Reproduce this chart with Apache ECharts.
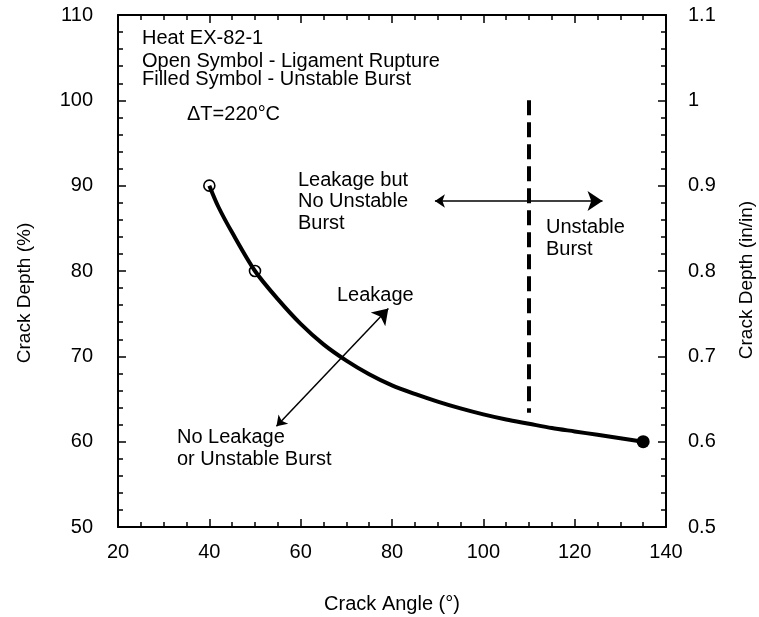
<!DOCTYPE html>
<html>
<head>
<meta charset="utf-8">
<script src="https://cdn.jsdelivr.net/npm/echarts@6/dist/echarts.min.js"></script>
<style>
  html, body { margin: 0; padding: 0; background: #fff; }
  #chart { width: 759px; height: 617px; }
</style>
</head>
<body>
<div id="chart"></div>
<script>
// Crack angle (deg) vs crack depth (%) boundary curve
const curveAngle = [40, 42, 45, 50, 55, 60, 65, 70, 75, 80, 85, 90, 95, 100, 105, 110, 115, 120, 125, 130, 135];
const curveDepth = [90, 87.5, 84.5, 80, 76.7, 73.8, 71.4, 69.5, 67.9, 66.6, 65.6, 64.7, 63.9, 63.2, 62.6, 62.1, 61.6, 61.2, 60.8, 60.4, 60];

// Open symbols: ligament rupture; filled symbol: unstable burst
const ruptureAngle = [40, 50];
const ruptureDepth = [90, 80];
const burstAngle = [135];
const burstDepth = [60];

// Unstable-burst threshold line
const thresholdAngle = [110, 110];
const thresholdDepth = [100, 63.4];

// Region arrows (start, end) in data units
const hArrowAngle = [89.4, 126.1];
const hArrowDepth = [88.2, 88.2];
const dArrowAngle = [54.7, 79.2];
const dArrowDepth = [61.8, 75.6];

// Axis ranges and ticks
const xMin = 20, xMax = 140, xStep = 20;
const yMin = 50, yMax = 110, yStep = 10;
const y2Min = 0.5, y2Max = 1.1, y2Step = 0.1;

const FONT = '"Liberation Sans", Arial, Helvetica, sans-serif';
const INK = '#000';

const zip = (a, b) => a.map((v, i) => [v, b[i]]);

const chart = echarts.init(document.getElementById('chart'), null, { renderer: 'canvas' });

const axisCommon = {
  axisLine: { show: true, onZero: false, lineStyle: { color: INK, width: 2 } },
  axisTick: { show: true, inside: true, length: 8, lineStyle: { color: INK, width: 1.5 } },
  splitLine: { show: false },
  axisLabel: { color: INK, fontFamily: FONT, fontSize: 20 }
};

// one line of free text, vertically centred on y
function txt(x, y, s, opts) {
  opts = opts || {};
  return {
    type: 'text', x: x, y: y, rotation: opts.rot || 0, silent: true,
    style: {
      text: s, fill: INK, font: (opts.size || 20) + 'px ' + FONT,
      align: opts.align || 'left', verticalAlign: 'middle'
    }
  };
}

chart.setOption({
  animation: false,
  backgroundColor: '#fff',
  grid: { left: 118, right: 93, top: 15, bottom: 90, containLabel: false },
  xAxis: [
    Object.assign({}, axisCommon, {
      type: 'value', position: 'bottom', min: xMin, max: xMax, interval: xStep,
      minorTick: { show: true, splitNumber: 4, length: 5, lineStyle: { color: INK, width: 1.5 } },
      axisLabel: Object.assign({}, axisCommon.axisLabel, { margin: 15 })
    }),
    Object.assign({}, axisCommon, {
      type: 'value', position: 'top', min: xMin, max: xMax, interval: xStep,
      minorTick: { show: true, splitNumber: 4, length: 5, lineStyle: { color: INK, width: 1.5 } },
      axisLabel: { show: false }
    })
  ],
  yAxis: [
    Object.assign({}, axisCommon, {
      type: 'value', position: 'left', min: yMin, max: yMax, interval: yStep,
      minorTick: { show: true, splitNumber: 5, length: 5, lineStyle: { color: INK, width: 1.5 } },
      axisLabel: Object.assign({}, axisCommon.axisLabel, { margin: 25 })
    }),
    Object.assign({}, axisCommon, {
      type: 'value', position: 'right', min: y2Min, max: y2Max, interval: y2Step,
      minorTick: { show: true, splitNumber: 5, length: 5, lineStyle: { color: INK, width: 1.5 } },
      axisLabel: Object.assign({}, axisCommon.axisLabel, { margin: 22 })
    })
  ],
  series: [
    {
      type: 'line', xAxisIndex: 0, yAxisIndex: 0,
      data: zip(curveAngle, curveDepth),
      smooth: 0.3, showSymbol: false, symbol: 'none',
      lineStyle: { color: INK, width: 4 }, z: 3
    },
    {
      type: 'line', xAxisIndex: 0, yAxisIndex: 0,
      data: zip(thresholdAngle, thresholdDepth),
      symbol: 'none',
      lineStyle: { color: INK, width: 4, type: [15, 7] }, z: 2
    },
    {
      type: 'scatter', xAxisIndex: 0, yAxisIndex: 0,
      data: zip(ruptureAngle, ruptureDepth),
      symbol: 'circle', symbolSize: 11,
      itemStyle: { color: 'rgba(255,255,255,0)', borderColor: INK, borderWidth: 1.6, opacity: 1 }, z: 5
    },
    {
      type: 'scatter', xAxisIndex: 0, yAxisIndex: 0,
      data: zip(burstAngle, burstDepth),
      symbol: 'circle', symbolSize: 13,
      itemStyle: { color: INK, opacity: 1 }, z: 5
    },
    {
      type: 'lines', coordinateSystem: 'cartesian2d', xAxisIndex: 0, yAxisIndex: 0,
      polyline: false,
      symbol: ['arrow', 'arrow'], symbolSize: [10, 15],
      lineStyle: { color: INK, width: 1.5, curveness: 0, opacity: 1 },
      data: [
        { coords: zip(hArrowAngle, hArrowDepth) },
        { coords: zip(dArrowAngle, dArrowDepth) }
      ],
      z: 4
    }
  ],
  graphic: [
    txt(142, 38.5, 'Heat EX-82-1'),
    txt(142, 61.5, 'Open Symbol - Ligament Rupture'),
    txt(142, 79.5, 'Filled Symbol - Unstable Burst'),
    txt(187, 114, 'ΔT=220°C'),
    txt(298, 180, 'Leakage but'),
    txt(298, 201.7, 'No Unstable'),
    txt(298, 223.4, 'Burst'),
    txt(337, 295.5, 'Leakage'),
    txt(177, 437.5, 'No Leakage'),
    txt(177, 459.5, 'or Unstable Burst'),
    txt(546, 227, 'Unstable'),
    txt(546, 249, 'Burst'),
    // axis titles
    txt(392, 604, 'Crack Angle (°)', { align: 'center' }),
    txt(25, 293, 'Crack Depth (%)', { size: 19, rot: Math.PI / 2, align: 'center' }),
    txt(747, 280, 'Crack Depth (in/in)', { size: 19, rot: Math.PI / 2, align: 'center' })
  ]
});
</script>
</body>
</html>
